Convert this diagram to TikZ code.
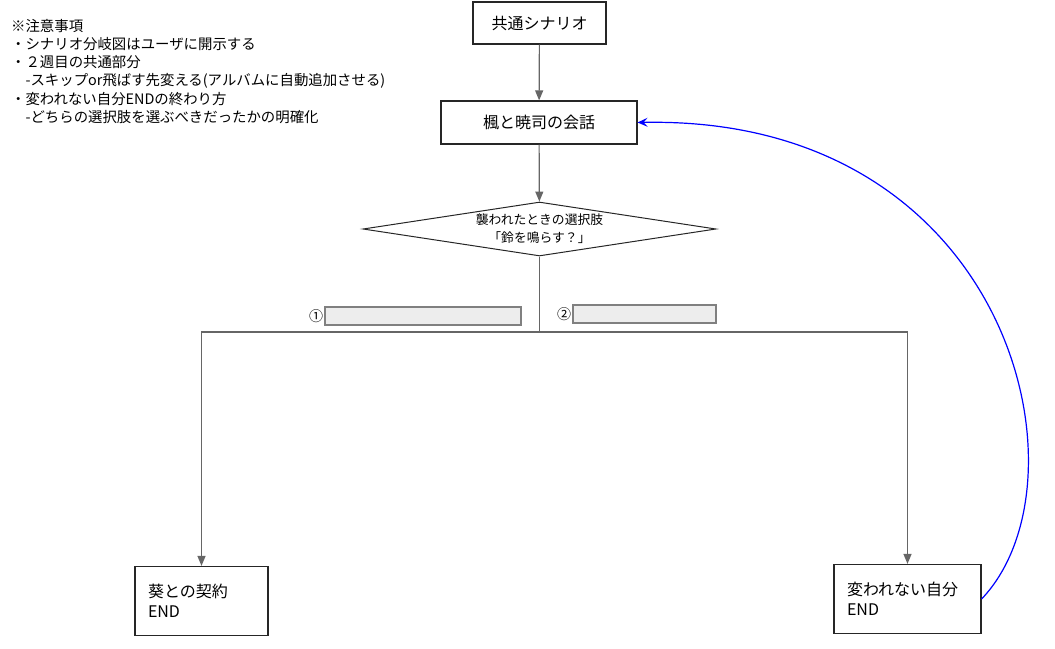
\documentclass[tikz,border=0pt]{standalone}
\usepackage{fontspec}
\setmainfont{Noto Sans CJK JP}
\usetikzlibrary{shapes.geometric,arrows.meta,positioning}

\begin{document}
\begin{tikzpicture}[x=1pt,y=-1pt,
  box/.style={draw=black!85,line width=1.2pt,font=\fontsize{16}{20}\selectfont,minimum height=42pt},
  endbox/.style={box,align=left,minimum height=69pt,inner xsep=13pt},
  flow/.style={draw=black!60,line width=1.2pt,-{Triangle[length=10pt,width=8pt]}},
  lbl/.style={draw=black!50,fill=black!7,line width=1.2pt,minimum height=18pt,inner sep=0pt}]
\useasboundingbox (0,0) rectangle (1055,648);
\node[anchor=north west,align=left,inner sep=0pt,font=\fontsize{14.4}{18.2}\selectfont] (notes) at (11,19) {※注意事項\\・シナリオ分岐図はユーザに開示する\\・２週目の共通部分\\　-スキップor飛ばす先変える(アルバムに自動追加させる)\\・変われない自分ENDの終わり方\\　-どちらの選択肢を選ぶべきだったかの明確化};
\node[box,minimum width=133pt] (common) at (539.5,23) {共通シナリオ};
\node[box,minimum width=196pt,minimum height=43pt] (talk) at (539,122.5) {楓と暁司の会話};
\node[draw=black!85,line width=1pt,diamond,aspect=6.5,minimum width=353pt,minimum height=54pt,inner sep=0pt,align=center,font=\fontsize{12.8}{18}\selectfont] (choice) at (539.5,229) {襲われたときの選択肢\\「鈴を鳴らす？」};
\coordinate (fork) at (539.5,332);
\node[lbl,minimum width=196pt] (lblA) at (423,316) {};
\node[lbl,minimum width=143pt] (lblB) at (644.5,314) {};
\node[left=1pt of lblA,inner sep=0pt,font=\fontsize{14}{14}\selectfont] (numA) {①};
\node[left=1pt of lblB,inner sep=0pt,font=\fontsize{14}{14}\selectfont] (numB) {②};
\node[endbox,text width=107pt] (endA) at (201.5,601) {葵との契約\\END};
\node[endbox,text width=121pt] (endB) at (907.5,599) {変われない自分\\END};
\draw[flow] (common) -- (talk);
\draw[flow] (talk) -- (choice);
\draw[flow] (choice.south) -- (fork) -| (endA.north);
\draw[flow] (fork) -| (endB.north);
\draw[blue,line width=1.2pt,-{Stealth[length=10pt,width=9pt,inset=4pt]}] (endB.east) .. controls (1095,480) and (1010,115) .. (talk.east);
\end{tikzpicture}
\end{document}
